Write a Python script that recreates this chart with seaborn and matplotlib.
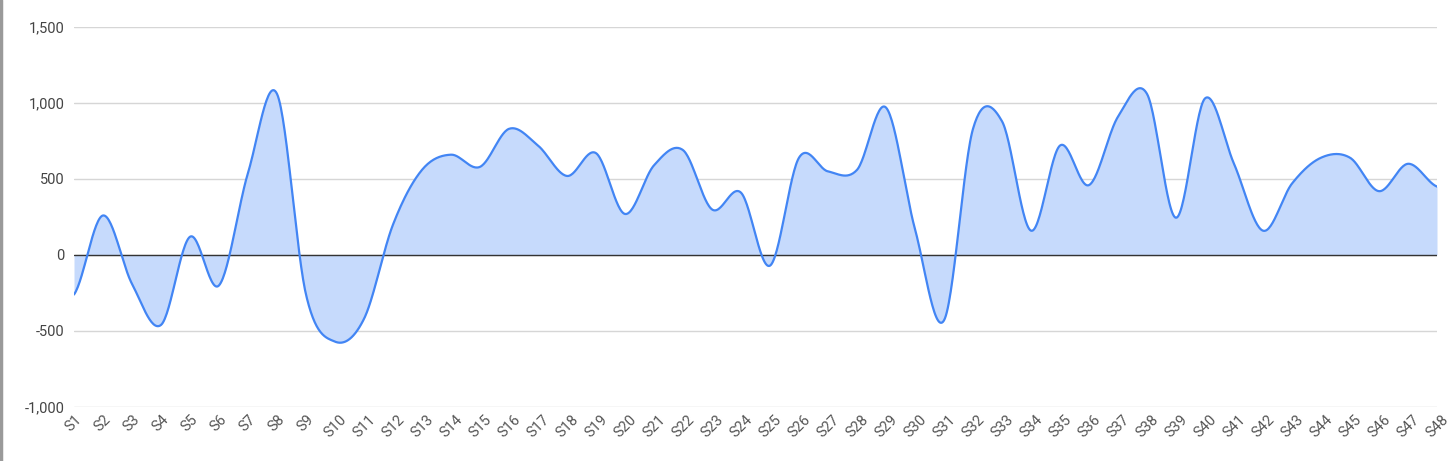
import numpy as np
import matplotlib
matplotlib.use("Agg")
import matplotlib.pyplot as plt
from matplotlib.lines import Line2D
from matplotlib.ticker import FuncFormatter
import seaborn as sns

# data
labels = ["S%d" % i for i in range(1, 49)]
values = [-260, 260, -190, -460, 120, -200, 540, 1060, -260, -570,
          -420, 200, 560, 660, 580, 830, 720, 520, 670, 270,
          590, 690, 300, 410, -70, 640, 550, 560, 970, 170,
          -430, 830, 880, 160, 720, 460, 910, 1060, 245, 1030,
          600, 160, 470, 640, 640, 420, 600, 450]
yticks = [-1000, -500, 0, 500, 1000, 1500]

line_col = "#4285f4"
fill_col = "#c6dafc"


def smooth(y, n=30):
    # catmull-rom spline through the points, only for drawing the curve
    p = np.concatenate([[y[0]], y, [y[-1]]])
    xs, ys = [], []
    for i in range(len(y) - 1):
        p0, p1, p2, p3 = p[i], p[i + 1], p[i + 2], p[i + 3]
        t = np.linspace(0, 1, n, endpoint=False)
        seg = 0.5 * ((2 * p1) + (-p0 + p2) * t +
                     (2 * p0 - 5 * p1 + 4 * p2 - p3) * t ** 2 +
                     (-p0 + 3 * p1 - 3 * p2 + p3) * t ** 3)
        xs.append(i + t)
        ys.append(seg)
    xs.append([len(y) - 1])
    ys.append([y[-1]])
    return np.concatenate(xs), np.concatenate(ys)


sns.set_theme(style="white")
plt.rcParams["font.family"] = ["Roboto", "DejaVu Sans"]

W, H = 1456, 461
fig = plt.figure(figsize=(W / 100, H / 100), dpi=100)
ax = fig.add_axes([74 / W, 1 - 407 / H, (1437 - 74) / W, (407 - 27) / H])

x = np.arange(len(values))
sx, sy = smooth(np.array(values, dtype=float))

ax.fill_between(sx, sy, 0, color=fill_col, linewidth=0, zorder=1)
sns.lineplot(x=sx, y=sy, ax=ax, color=line_col, linewidth=1.6, sort=False,
             estimator=None, zorder=3)
ax.axhline(0, color="#333333", linewidth=1, zorder=2)

ax.set_xlim(0, len(values) - 1)
ax.set_ylim(-1000, 1500)
ax.set_yticks(yticks)
ax.yaxis.set_major_formatter(FuncFormatter(lambda v, _: f"{int(v):,}"))
ax.set_xticks(x)
ax.set_xticklabels(labels, rotation=45, ha="center", va="top")
ax.grid(axis="y", color="#d6d6d6", linewidth=1, zorder=0)
ax.set_axisbelow(True)
for s in ax.spines.values():
    s.set_visible(False)
ax.tick_params(axis="y", length=0, pad=7, labelsize=10.5, labelcolor="#444444")
ax.tick_params(axis="x", length=0, pad=4, labelsize=10.5, labelcolor="#555555")

# grey border at the left edge
fig.add_artist(Line2D([0.001, 0.001], [0, 1], transform=fig.transFigure,
                      color="#9a9a9a", linewidth=2.5))

fig.savefig("out.png", dpi=100)
